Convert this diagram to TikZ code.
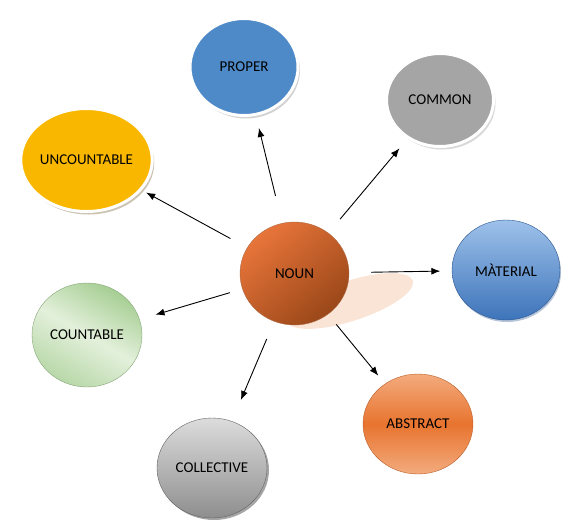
\documentclass[tikz,border=0pt]{standalone}
\usepackage{fontspec}
\setmainfont{Carlito}
\usetikzlibrary{shapes.geometric,shadows,arrows.meta}

\definecolor{properblue}{HTML}{4E8AC8}
\definecolor{commongray}{HTML}{A5A5A5}
\definecolor{uncyellow}{HTML}{F9B700}
\definecolor{uncshadow}{HTML}{9A8A68}
\definecolor{matlight}{HTML}{9EC1EA}
\definecolor{matdark}{HTML}{3D74BA}
\definecolor{matedge}{HTML}{2B568F}
\definecolor{cntlight}{HTML}{E3F0DB}
\definecolor{cntdark}{HTML}{A6CE93}
\definecolor{collight}{HTML}{DCDCDC}
\definecolor{coldark}{HTML}{8E8E8E}
\definecolor{absorange}{HTML}{E8742F}
\definecolor{abslight}{HTML}{F3AB7E}
\definecolor{nounlight}{HTML}{E8753A}
\definecolor{noundark}{HTML}{9A4719}
\definecolor{nounshade}{HTML}{FAE4D6}

\begin{document}
\begin{tikzpicture}[x=1pt, y=-1pt,
    main/.style = {draw, ellipse, inner sep=0pt, font=\fontsize{15}{17}\selectfont},
    rim/.style = {draw=white, line width=3pt, drop shadow={shadow xshift=2pt, shadow yshift=-3pt, fill=#1}},
    link/.style = {-{Latex[length=9pt,width=7pt]}, line width=0.9pt}]
    \useasboundingbox (0,0) rectangle (585,531);

    \node[ellipse, fill=nounshade, rotate=18, minimum width=132pt, minimum height=40pt] at (350,301) (nounshadow){};
    \node[main, draw=noundark!80, top color=nounlight, bottom color=noundark, shading angle=40,
          minimum width=109pt, minimum height=103pt] at (294.5,273.5) (noun){NOUN};

    \node[main, rim=gray!70, fill=properblue, minimum width=108pt, minimum height=97pt] at (244,67) (proper){PROPER};
    \node[main, rim=gray!60, fill=commongray, minimum width=107pt, minimum height=93pt] at (440,100) (common){COMMON};
    \node[main, rim=uncshadow, fill=uncyellow, minimum width=109pt, minimum height=103pt] at (86.5,160) (uncountable){UNCOUNTABLE};
    \node[main, draw=matedge, top color=matlight, bottom color=matdark,
          drop shadow={shadow xshift=1pt, shadow yshift=-2pt, fill=matedge!70},
          minimum width=108pt, minimum height=100pt] at (506,270) (material){MÀTERIAL};
    \node[main, draw=cntdark!80!black, left color=cntdark, right color=cntdark!80, middle color=cntlight, shading angle=-30,
          minimum width=110pt, minimum height=104pt] at (87,335) (countable){COUNTABLE};
    \node[main, draw=coldark!70!black, top color=collight, bottom color=coldark,
          drop shadow={shadow xshift=2pt, shadow yshift=-2pt, fill=black!70},
          minimum width=110pt, minimum height=100pt] at (212,468) (collective){COLLECTIVE};
    \node[main, draw=absorange!80!black, top color=abslight, bottom color=abslight, middle color=absorange,
          minimum width=110pt, minimum height=100pt] at (418,424) (abstract){ABSTRACT};

    \path[link]
    (noun) edge[shorten <=28pt, shorten >=12.5pt] (proper)
    (noun) edge[shorten <=18pt, shorten >=12.5pt] (common)
    (noun) edge[shorten <=19pt, shorten >=5pt] (uncountable)
    (noun) edge[shorten <=22pt, shorten >=11.5pt] (material)
    (noun) edge[shorten <=13pt, shorten >=16.5pt] (countable)
    (noun) edge[shorten <=19pt, shorten >=23pt] (collective)
    (noun) edge[shorten <=13pt, shorten >=10.5pt] (abstract)
    ;
\end{tikzpicture}
\end{document}
